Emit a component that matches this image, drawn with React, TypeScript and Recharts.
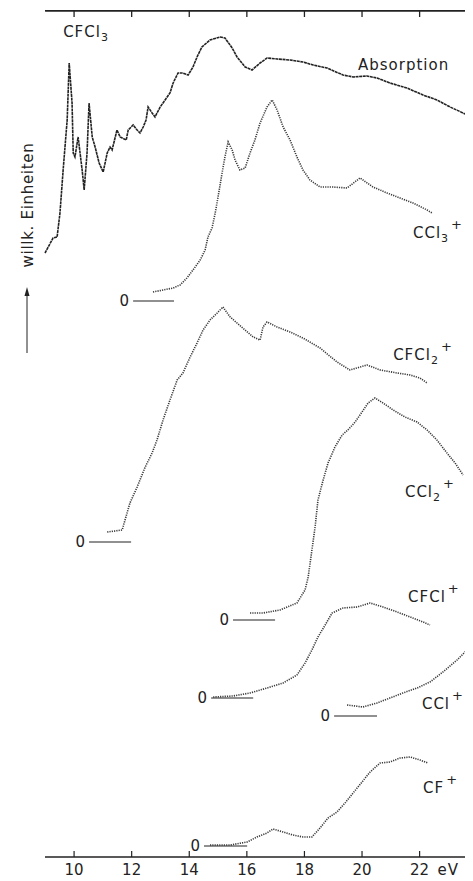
import React from "react";
import { ComposedChart, Line, XAxis, YAxis, ReferenceDot, Customized } from "recharts";

// Photon energy ticks (eV)
const energyTicks = [10, 12, 14, 16, 18, 20, 22, 24];
const energyRange: [number, number] = [9, 25];
const unitLabel = "eV";
const yLabel = "willk. Einheiten";
const yTop = 847;

// [energy eV, intensity (arb. units, common offset scale)]
const absorption: [number, number][] = [
  [8.99, 604], [9.27, 619], [9.41, 620], [9.51, 644], [9.62, 687], [9.76, 737], [9.83, 794],
  [9.93, 754], [9.97, 704], [10.03, 700], [10.14, 720], [10.28, 687], [10.35, 667], [10.45, 704],
  [10.52, 754], [10.63, 720], [10.73, 710], [10.87, 694], [11.01, 685], [11.15, 704], [11.25, 710],
  [11.32, 707], [11.49, 727], [11.6, 720], [11.81, 717], [11.88, 727], [12.05, 732], [12.19, 727],
  [12.29, 724], [12.4, 730], [12.5, 737], [12.57, 750], [12.71, 744], [12.81, 740], [12.99, 750],
  [13.16, 757], [13.33, 764], [13.44, 774], [13.61, 784], [13.78, 784], [13.96, 782], [14.13, 790],
  [14.27, 800], [14.44, 810], [14.72, 817], [15.07, 820], [15.24, 819], [15.49, 809], [15.66, 800],
  [15.94, 790], [16.18, 787], [16.46, 794], [16.7, 799], [17.05, 798], [17.5, 797], [17.95, 795],
  [18.3, 792], [18.78, 789], [19.34, 782], [19.69, 780], [20.17, 781], [20.52, 779], [20.97, 774],
  [21.56, 769], [22.12, 762], [22.6, 757], [23.06, 750], [23.51, 744], [23.85, 740], [24.2, 735],
];

const ccl3: [number, number][] = [
  [12.74, 565], [13.09, 567], [13.44, 569], [13.68, 572], [13.92, 579], [14.13, 587], [14.38, 597],
  [14.55, 607], [14.65, 620], [14.79, 629], [14.9, 644], [15.0, 660], [15.14, 684], [15.24, 700],
  [15.35, 715], [15.49, 707], [15.59, 697], [15.76, 687], [15.94, 689], [16.11, 704], [16.28, 717],
  [16.46, 734], [16.7, 750], [16.88, 757], [17.05, 747], [17.26, 730], [17.5, 717], [17.74, 700],
  [17.95, 687], [18.19, 677], [18.54, 670], [18.99, 670], [19.48, 669], [19.93, 679], [20.38, 670],
  [20.87, 664], [21.32, 659], [21.77, 654], [22.26, 647], [22.43, 644],
];

const cfcl2: [number, number][] = [
  [11.15, 325], [11.67, 327], [11.77, 337], [11.94, 354], [12.19, 370], [12.47, 390], [12.71, 404],
  [12.88, 417], [13.09, 437], [13.33, 457], [13.58, 477], [13.78, 484], [14.03, 500], [14.27, 514],
  [14.48, 527], [14.72, 537], [14.97, 544], [15.17, 550], [15.42, 540], [15.66, 534], [15.94, 527],
  [16.22, 520], [16.46, 517], [16.56, 530], [16.7, 535], [17.05, 530], [17.5, 525], [17.95, 519],
  [18.54, 509], [19.13, 495], [19.58, 487], [20.17, 492], [20.63, 487], [21.22, 484], [21.67, 482],
  [22.01, 479], [22.26, 474],
];

const ccl2: [number, number][] = [
  [16.11, 244], [16.56, 244], [17.15, 247], [17.74, 254], [18.02, 267], [18.13, 280], [18.26, 307],
  [18.37, 330], [18.47, 357], [18.65, 377], [18.82, 394], [19.06, 410], [19.31, 422], [19.51, 427],
  [19.76, 435], [20.0, 445], [20.21, 454], [20.45, 459], [20.73, 454], [21.08, 447], [21.49, 440],
  [21.91, 435], [22.26, 427], [22.6, 417], [22.95, 404], [23.23, 394], [23.51, 382],
];

const cfcl: [number, number][] = [
  [14.83, 160], [15.52, 161], [16.11, 164], [16.7, 169], [17.26, 174], [17.74, 182], [18.02, 194],
  [18.26, 207], [18.47, 220], [18.72, 232], [18.96, 244], [19.34, 249], [19.83, 250], [20.28, 254],
  [20.73, 250], [21.22, 245], [21.67, 240], [22.12, 235], [22.36, 232],
];

const ccl: [number, number][] = [
  [19.48, 152], [20.03, 150], [20.52, 154], [20.97, 159], [21.42, 164], [21.91, 169], [22.36, 175],
  [22.81, 185], [23.3, 197], [23.75, 210], [23.95, 218],
];

const cf: [number, number][] = [
  [14.72, 12], [15.42, 12], [16.01, 15], [16.35, 20], [16.7, 24], [16.91, 28], [17.26, 25],
  [17.6, 22], [17.95, 20], [18.26, 20], [18.54, 29], [18.82, 39], [19.13, 45], [19.41, 54],
  [19.69, 64], [20.0, 75], [20.28, 85], [20.63, 94], [20.97, 95], [21.32, 99], [21.67, 100],
  [22.01, 97], [22.29, 94],
];

// zero baselines: [start eV, end eV, level]
const zeroLines: [number, number, number][] = [
  [12.05, 13.47, 556],
  [10.52, 11.98, 315],
  [15.52, 16.98, 237],
  [14.76, 16.22, 159],
  [19.03, 20.52, 141],
  [14.51, 16.01, 11],
];

// curve labels: [main, subscript, superscript, eV, level]
const curveLabels: [string, string, string, number, number][] = [
  ["CFCl", "3", "", 9.62, 820],
  ["Absorption", "", "", 19.86, 787],
  ["CCl", "3", "+", 21.77, 619],
  ["CFCl", "2", "+", 21.08, 497],
  ["CCl", "2", "+", 21.49, 360],
  ["CFCl", "", "+", 21.6, 255],
  ["CCl", "", "+", 22.08, 148],
  ["CF", "", "+", 22.12, 64],
];

const FONT = "DejaVu Sans";
const INK = "#222";

const toPts = (arr: [number, number][]) => arr.map(([e, v]) => ({ e, v }));

const BottomTick = (props: any) => {
  const { x, y, payload } = props;
  return (
    <g>
      <line x1={x} x2={x} y1={y} y2={y - 6} stroke={INK} strokeWidth={1.2} />
      <text x={x} y={y + 18} textAnchor="middle" fontSize={15} fontFamily={FONT} fill={INK}>
        {payload.value}
      </text>
      {payload.value === 22 && (
        <text x={x + 18} y={y + 18} fontSize={15} fontFamily={FONT} fill={INK} letterSpacing={1}>
          {unitLabel}
        </text>
      )}
    </g>
  );
};

// top frame marks, placed at the scaled position of (energy, yTop)
const topFrame = (p: any) => (
  <line x1={p.cx} x2={p.cx + 600} y1={p.cy + 0.8} y2={p.cy + 0.8} stroke={INK} strokeWidth={1.6} />
);
const topTick = (p: any) => (
  <line x1={p.cx} x2={p.cx} y1={p.cy} y2={p.cy + 7} stroke={INK} strokeWidth={1.3} />
);

const makeLabel = (main: string, sub: string, sup: string) => (p: any) => (
  <text x={p.cx} y={p.cy} fontSize={15} fontFamily={FONT} fill={INK} letterSpacing={1}>
    {main}
    {sub && (
      <tspan fontSize={11} dy={4}>
        {sub}
      </tspan>
    )}
    {sup && (
      <tspan fontSize={13} dx={2} dy={sub ? -13 : -9}>
        {sup}
      </tspan>
    )}
  </text>
);

const zeroText = (p: any) => (
  <text x={p.cx - 4} y={p.cy + 5} textAnchor="end" fontSize={15} fontFamily={FONT} fill={INK}>
    0
  </text>
);

// chart geometry shared by the chart margins and the decorations
const M = { top: 10, right: 2, bottom: 0, left: 37 };
const CHART_W = 500;
const CHART_H = 881;

const Decorations = () => (
  <g>
    <line x1={M.left} x2={CHART_W} y1={M.top + 0.8} y2={M.top + 0.8} stroke={INK} strokeWidth={1.6} />
    <text
      x={25}
      y={205}
      transform="rotate(-90, 25, 205)"
      textAnchor="middle"
      fontSize={15}
      fontFamily={FONT}
      fill={INK}
      letterSpacing={0.7}
    >
      {yLabel}
    </text>
    <line x1={19} x2={19} y1={353} y2={293} stroke={INK} strokeWidth={1} />
    <polygon points="19,287 16.5,296 21.5,296" fill={INK} />
  </g>
);

const plain = { type: "linear" as const, dot: false, activeDot: false, isAnimationActive: false };

export default function App() {
  const ionSeries = [ccl3, cfcl2, ccl2, cfcl, ccl, cf];
  return (
    <div style={{ width: 465, height: CHART_H, marginTop: -8, overflow: "hidden", background: "#fff" }}>
      <ComposedChart width={CHART_W} height={CHART_H} margin={M}>
        <XAxis
          type="number"
          dataKey="e"
          domain={energyRange}
          ticks={energyTicks}
          height={24}
          tickSize={0}
          tickMargin={0}
          tickLine={false}
          axisLine={{ stroke: INK, strokeWidth: 1.4 }}
          tick={<BottomTick />}
          interval={0}
        />
        <YAxis
          type="number"
          domain={[0, yTop]}
          width={0}
          tick={false}
          tickLine={false}
          axisLine={{ stroke: INK, strokeWidth: 1.4 }}
        />
        <Line
          {...plain}
          data={toPts(absorption)}
          dataKey="v"
          stroke={INK}
          strokeWidth={1.6}
          strokeDasharray="3 0.6"
        />
        {ionSeries.map((s, i) => (
          <Line
            key={"ion" + i}
            {...plain}
            data={toPts(s)}
            dataKey="v"
            stroke="#3a3a3a"
            strokeWidth={1.6}
            strokeDasharray="1.2 1.1"
          />
        ))}
        {zeroLines.map(([a, b, lv], i) => (
          <Line
            key={"z" + i}
            {...plain}
            data={[{ e: a, v: lv }, { e: b, v: lv }]}
            dataKey="v"
            stroke={INK}
            strokeWidth={1.2}
          />
        ))}
        <ReferenceDot x={energyRange[0]} y={yTop} r={0} shape={topFrame} ifOverflow="visible" />
        {energyTicks.map((t) => (
          <ReferenceDot key={"tt" + t} x={t} y={yTop} r={0} shape={topTick} ifOverflow="visible" />
        ))}
        {zeroLines.map(([a, , lv], i) => (
          <ReferenceDot key={"zt" + i} x={a} y={lv} r={0} shape={zeroText} ifOverflow="visible" />
        ))}
        {curveLabels.map(([m, sb, sp, e, lv], i) => (
          <ReferenceDot key={"l" + i} x={e} y={lv} r={0} shape={makeLabel(m, sb, sp)} ifOverflow="visible" />
        ))}
        <Customized component={Decorations} />
      </ComposedChart>
    </div>
  );
}
